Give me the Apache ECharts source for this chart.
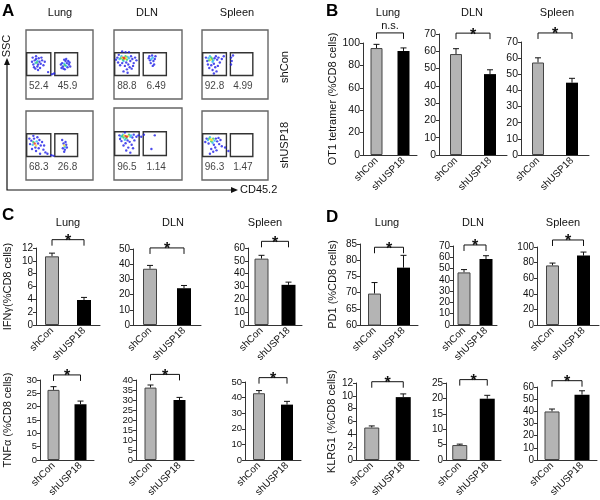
<!DOCTYPE html>
<html>
<head>
<meta charset="utf-8">
<script src="https://cdn.jsdelivr.net/npm/echarts/dist/echarts.min.js"></script>
<style>
  html, body { margin: 0; padding: 0; background: #fff; }
  #main { width: 600px; height: 500px; }
</style>
</head>
<body>
<div id="main"></div>
<script>
const tissues = ['Lung', 'DLN', 'Spleen'];
const groups = ['shCon', 'shUSP18'];

// A: gate percentages per tissue [left gate, right gate]
const gatePctCon = [[52.4, 45.9], [88.8, 6.49], [92.8, 4.99]];
const gatePctUsp = [[68.3, 26.8], [96.5, 1.14], [96.3, 1.47]];
// gates in plot units [x0, y0, x1, y1]
const gateBoxes = [[1, 34, 37, 67], [43, 34, 77, 67]];

// events: [CD45.2, SSC, density level 0-4]
const dotsLungCon = [
  [16,53,2],[17,55,1],[14,52,1],[18,50,0],[13,56,0],[20,54,0],[15,58,0],[11,50,0],[19,59,0],[22,51,0],
  [12,46,0],[17,47,0],[24,56,0],[9,54,0],[21,45,0],[15,62,0],[26,49,0],[18,42,0],[10,60,0],[23,60,0],
  [14,44,0],[28,54,0],[39,36,0],[42,37,0],[33,39,0],
  [58,49,2],[57,51,1],[60,48,1],[55,47,0],[61,52,0],[54,52,0],[62,46,0],[59,55,0],[56,44,0],[64,50,0],
  [52,50,0],[58,43,0],[63,55,0],[60,58,0],[66,47,0],[53,45,0],[57,57,0],[65,53,0]
];
const dotsDlnCon = [
  [15,59,4],[14,60,4],[16,58,3],[12,60,3],[18,60,3],[13,57,2],[17,62,2],[10,59,2],[19,57,2],[11,62,1],
  [20,61,1],[8,58,1],[22,59,1],[14,55,1],[5,60,0],[3,57,0],[25,62,0],[27,58,0],[24,55,0],[18,53,0],
  [12,52,0],[21,50,0],[16,48,0],[23,46,0],[19,43,0],[14,40,0],[26,44,0],[20,38,0],[9,49,0],[29,52,0],
  [31,60,0],[17,68,0],[12,69,0],[22,68,0],[7,64,0],[33,56,0],[28,48,0],[6,53,0],
  [55,58,1],[57,60,1],[53,56,0],[58,55,0],[52,62,0],[56,63,0],[60,58,0],[54,52,0],[59,50,0],[51,59,0],
  [61,62,0],[57,48,0]
];
const dotsSpleenCon = [
  [13,57,3],[15,58,2],[11,56,2],[14,60,2],[17,56,1],[10,59,1],[16,54,1],[12,62,1],[19,59,0],[8,55,0],
  [21,62,0],[6,60,0],[23,57,0],[18,51,0],[14,49,0],[25,60,0],[20,46,0],[11,45,0],[27,53,0],[16,42,0],
  [22,40,0],[30,58,0],[9,50,0],[24,48,0],[18,37,0],[33,62,0],
  [44,60,0],[45,55,0],[47,63,0],[44,50,0]
];
const dotsLungUsp = [
  [13,53,4],[15,50,3],[11,55,2],[16,56,1],[10,51,1],[14,47,0],[18,53,0],[8,57,0],[12,60,0],[20,58,0],
  [17,62,0],[6,52,0],[22,50,0],[9,45,0],[15,42,0],[24,55,0],[19,46,0],[5,60,0],[26,44,0],[29,40,0],
  [32,38,0],[21,38,0],[38,36,0],[41,35,0],[11,64,0],[27,50,0],
  [57,50,3],[58,48,1],[56,53,0],[59,55,0],[55,46,0],[60,51,0],[58,44,0],[54,58,0],[61,47,0],[57,41,0]
];
const dotsDlnUsp = [
  [17,61,4],[19,60,4],[15,62,3],[21,61,3],[14,59,2],[18,58,2],[22,63,2],[12,61,2],[24,60,1],[13,63,1],
  [16,56,1],[25,62,1],[10,60,1],[27,59,0],[8,62,0],[29,63,0],[20,55,0],[23,53,0],[17,51,0],[26,49,0],
  [14,48,0],[21,45,0],[18,41,0],[24,38,0],[11,54,0],[30,55,0],[33,60,0],[36,62,0],[40,60,0],[44,63,0],
  [16,66,0],[9,57,0],[28,44,0],
  [60,62,0],[55,43,0]
];
const dotsSpleenUsp = [
  [13,59,3],[15,58,3],[11,60,2],[17,60,2],[14,56,2],[9,58,1],[19,57,1],[12,62,1],[16,54,1],[21,60,0],
  [7,60,0],[23,56,0],[18,51,0],[10,53,0],[25,61,0],[20,47,0],[14,45,0],[26,52,0],[17,41,0],[22,43,0],
  [5,55,0],[28,58,0],[30,49,0],[12,38,0],[40,42,0],[35,47,0]
];

// B: OT1 tetramer, per tissue [shCon, shUSP18]
const ot1Mean = [[95.5, 92.9], [58.4, 46.8], [57.3, 44.8]];
const ot1Err = [[3.3, 2.7], [3.1, 2.5], [2.9, 2.7]];
const ot1Max = [100, 70, 70];
const ot1Step = [20, 10, 10];
const ot1Bracket = [109, 70.5, 75.6];
const ot1Sig = ['n.s.', '*', '*'];

// C: IFNg and TNFa
const ifngMean = [[10.7, 3.9], [37, 24.2], [51.7, 31.3]];
const ifngErr = [[0.5, 0.4], [2.2, 1.8], [2.6, 2.1]];
const ifngMax = [12, 50, 60];
const ifngStep = [2, 10, 10];
const ifngBracket = [13.3, 50.7, 65.2];

const tnfMean = [[26.3, 20.9], [36.2, 30], [42.8, 35.5]];
const tnfErr = [[1.2, 1.2], [1.3, 1.3], [1.7, 2.1]];
const tnfMax = [30, 40, 50];
const tnfStep = [5, 5, 10];
const tnfBracket = [31.9, 42.8, 52.8];

// D: PD1 and KLRG1
const pd1Mean = [[69.7, 77.7], [46.6, 58.4], [76.4, 89]];
const pd1Err = [[3.4, 3.8], [2.5, 3], [3, 4.5]];
const pd1Min = [60, 0, 0];
const pd1Max = [85, 70, 100];
const pd1Step = [5, 10, 20];
const pd1Bracket = [84, 70.9, 109];

const klrgMean = [[5.06, 9.8], [4.85, 19.9], [39.9, 53.7]];
const klrgErr = [[0.25, 0.5], [0.3, 1.1], [2, 3.2]];
const klrgMax = [12, 25, 60];
const klrgStep = [2, 5, 10];
const klrgBracket = [12.2, 26.1, 65.2];

const FONT = '"Liberation Sans", Arial, sans-serif';
const dotColors = ['#1e1ee6', '#2ab6f0', '#2ec864', '#f2e02a', '#e8301e'];

const chart = echarts.init(document.getElementById('main'));
const grid = [], xAxis = [], yAxis = [], series = [], graphic = [];

function addText(text, x, y, size, extra) {
  graphic.push(Object.assign({
    type: 'text', x: x, y: y, silent: true,
    style: {
      text: text, x: 0, y: 0, font: size + 'px ' + FONT, fill: '#111',
      textAlign: 'center', textVerticalAlign: 'middle', align: 'center', verticalAlign: 'middle'
    }
  }, extra || {}));
}

// ---------- panel A: dot plots ----------
const flowPlots = [
  { box: [26, 30, 67, 69], dots: dotsLungCon, pct: gatePctCon[0] },
  { box: [114, 30, 68, 69], dots: dotsDlnCon, pct: gatePctCon[1] },
  { box: [202, 30, 66, 69], dots: dotsSpleenCon, pct: gatePctCon[2] },
  { box: [26, 111, 67, 69], dots: dotsLungUsp, pct: gatePctUsp[0] },
  { box: [114, 108, 68, 72], dots: dotsDlnUsp, pct: gatePctUsp[1] },
  { box: [202, 111, 66, 69], dots: dotsSpleenUsp, pct: gatePctUsp[2] }
];
const pctX = [19, 62];

flowPlots.forEach(fp => {
  const gi = grid.length;
  grid.push({ left: fp.box[0], top: fp.box[1], width: fp.box[2], height: fp.box[3],
    show: true, borderColor: '#666', borderWidth: 1.4, backgroundColor: 'transparent' });
  xAxis.push({ type: 'value', gridIndex: gi, min: 0, max: 100, show: false });
  yAxis.push({ type: 'value', gridIndex: gi, min: 0, max: 100, show: false });
  series.push({
    type: 'scatter', xAxisIndex: gi, yAxisIndex: gi, symbolSize: 2.4, silent: true,
    data: fp.dots.slice().sort((a, b) => a[2] - b[2]),
    itemStyle: { color: p => dotColors[p.value[2]] }
  });
  series.push({
    type: 'custom', xAxisIndex: gi, yAxisIndex: gi, silent: true, data: gateBoxes,
    renderItem: (params, api) => {
      const p0 = api.coord([api.value(0), api.value(3)]);
      const p1 = api.coord([api.value(2), api.value(1)]);
      return { type: 'rect', shape: { x: p0[0], y: p0[1], width: p1[0] - p0[0], height: p1[1] - p0[1] },
        style: { fill: 'none', stroke: '#333', lineWidth: 1.4 } };
    }
  });
  series.push({
    type: 'scatter', xAxisIndex: gi, yAxisIndex: gi, symbolSize: 0, silent: true,
    data: fp.pct.map((v, k) => [pctX[k], 18, v]),
    label: { show: true, position: 'inside', formatter: p => String(p.value[2]),
      fontSize: 10, color: '#111', fontFamily: FONT }
  });
});

// ---------- bar panels ----------
function errorBar(params, api) {
  const base = api.coord([api.value(0), api.value(1)]);
  const top = api.coord([api.value(0), api.value(1) + api.value(2)]);
  const st = { stroke: '#111', lineWidth: 1 };
  return { type: 'group', children: [
    { type: 'line', shape: { x1: base[0], y1: base[1], x2: top[0], y2: top[1] }, style: st },
    { type: 'line', shape: { x1: top[0] - 3, y1: top[1], x2: top[0] + 3, y2: top[1] }, style: st }
  ] };
}

function bracket(sig) {
  return (params, api) => {
    const a = api.coord([0, api.value(1)]);
    const b = api.coord([1, api.value(1)]);
    const star = sig === '*';
    return { type: 'group', children: [
      { type: 'polyline', shape: { points: [[a[0], a[1] + 6], [a[0], a[1]], [b[0], b[1]], [b[0], b[1] + 6]] },
        style: { fill: 'none', stroke: '#111', lineWidth: 1 } },
      { type: 'text', style: {
          text: sig, x: (a[0] + b[0]) / 2, y: star ? a[1] + 2 : a[1] - 1,
          font: (star ? 'bold 16px ' : '11px ') + FONT, fill: '#111',
          textAlign: 'center', align: 'center',
          textVerticalAlign: star ? 'middle' : 'bottom', verticalAlign: star ? 'middle' : 'bottom' } }
    ] };
  };
}

const barRows = [
  { mean: ot1Mean, err: ot1Err, min: [0, 0, 0], max: ot1Max, step: ot1Step, br: ot1Bracket, sig: ot1Sig,
    name: 'OT1 tetramer (%CD8 cells)', nameGap: 24, barW: 12, fs: 10.5,
    boxes: [[363, 43, 54, 112], [439, 34, 68, 121], [521, 42, 68, 113]] },
  { mean: ifngMean, err: ifngErr, min: [0, 0, 0], max: ifngMax, step: ifngStep, br: ifngBracket, sig: ['*', '*', '*'],
    name: 'IFNγ(%CD8 cells)', nameGap: 23, barW: 14, fs: 10,
    boxes: [[36, 248, 64, 77], [133, 249, 68, 76], [248, 248, 54, 77]] },
  { mean: tnfMean, err: tnfErr, min: [0, 0, 0], max: tnfMax, step: tnfStep, br: tnfBracket, sig: ['*', '*', '*'],
    name: 'TNFα (%CD8 cells)', nameGap: 27, barW: 12, fs: 9.5,
    boxes: [[40, 380, 54, 80], [136, 380, 58, 80], [245, 382, 56, 78]] },
  { mean: pd1Mean, err: pd1Err, min: pd1Min, max: pd1Max, step: pd1Step, br: pd1Bracket, sig: ['*', '*', '*'],
    name: 'PD1 (%CD8 cells)', nameGap: 22, barW: 13, fs: 10,
    boxes: [[360, 244, 58, 81], [453, 246, 44, 79], [537, 247, 62, 78]] },
  { mean: klrgMean, err: klrgErr, min: [0, 0, 0], max: klrgMax, step: klrgStep, br: klrgBracket, sig: ['*', '*', '*'],
    name: 'KLRG1 (%CD8 cells)', nameGap: 19, barW: 15, fs: 10,
    boxes: [[356, 383, 63, 77], [446, 383, 55, 77], [537, 387, 60, 73]] }
];

barRows.forEach(row => {
  tissues.forEach((tissue, t) => {
    const gi = grid.length;
    const b = row.boxes[t];
    grid.push({ left: b[0], top: b[1], width: b[2], height: b[3] });
    xAxis.push({
      type: 'category', gridIndex: gi, data: groups,
      axisLine: { lineStyle: { color: '#333', width: 1 } },
      axisTick: { length: 3, lineStyle: { color: '#333' } },
      axisLabel: { rotate: 45, margin: 4, interval: 0, fontSize: 10, color: '#111', fontFamily: FONT }
    });
    yAxis.push({
      type: 'value', gridIndex: gi, min: row.min[t], max: row.max[t], interval: row.step[t],
      axisLine: { show: true, lineStyle: { color: '#333', width: 1 } },
      axisTick: { show: true, length: 3, lineStyle: { color: '#333' } },
      splitLine: { show: false },
      axisLabel: { margin: 3, fontSize: row.fs, color: '#111', fontFamily: FONT },
      name: t === 0 ? row.name : '', nameLocation: 'middle', nameRotate: 90, nameGap: row.nameGap,
      nameTextStyle: { fontSize: 11, color: '#111', fontFamily: FONT }
    });
    series.push({
      type: 'bar', xAxisIndex: gi, yAxisIndex: gi, barWidth: row.barW, silent: true,
      data: row.mean[t].map((v, k) => ({
        value: v,
        itemStyle: k === 0 ? { color: '#b4b4b4', borderColor: '#444', borderWidth: 1 } : { color: '#000' }
      }))
    });
    series.push({
      type: 'custom', xAxisIndex: gi, yAxisIndex: gi, silent: true, encode: { x: 0, y: 1 },
      data: row.mean[t].map((v, k) => [k, v, row.err[t][k]]), renderItem: errorBar
    });
    series.push({
      type: 'custom', xAxisIndex: gi, yAxisIndex: gi, silent: true, encode: { x: 0, y: 1 }, z: 5,
      data: [[0, row.br[t]]], renderItem: bracket(row.sig[t])
    });
  });
});

// ---------- titles, letters, axes of panel A ----------
[[60, 13], [147, 13], [237, 13]].forEach((p, i) => addText(tissues[i], p[0], p[1], 11));
[[388, 13], [472, 13], [557, 13]].forEach((p, i) => addText(tissues[i], p[0], p[1], 11));
[[68, 223], [173, 223], [265, 223]].forEach((p, i) => addText(tissues[i], p[0], p[1], 11));
[[387, 223], [473, 223], [563, 223]].forEach((p, i) => addText(tissues[i], p[0], p[1], 11));

function letter(ch, x, y) {
  graphic.push({ type: 'text', x: x, y: y, silent: true,
    style: { text: ch, font: 'bold 17px ' + FONT, fill: '#000', textAlign: 'left', align: 'left',
      textVerticalAlign: 'top', verticalAlign: 'top' } });
}
letter('A', 2, 3);
letter('B', 326, 3);
letter('C', 2, 207);
letter('D', 326, 209);

addText('shCon', 285, 67, 11, { rotation: Math.PI / 2 });
addText('shUSP18', 285, 145, 11, { rotation: Math.PI / 2 });
addText('SSC', 7, 46, 11, { rotation: Math.PI / 2 });
graphic.push({ type: 'polyline', silent: true, shape: { points: [[7, 64], [7, 190], [232, 190]] },
  style: { fill: 'none', stroke: '#111', lineWidth: 1.2 } });
graphic.push({ type: 'polygon', silent: true, shape: { points: [[4, 65], [7, 58], [10, 65]] }, style: { fill: '#111' } });
graphic.push({ type: 'polygon', silent: true, shape: { points: [[231, 187], [238, 190], [231, 193]] }, style: { fill: '#111' } });
graphic.push({ type: 'text', x: 240, y: 190, silent: true,
  style: { text: 'CD45.2', font: '11px ' + FONT, fill: '#111', textAlign: 'left', align: 'left',
    textVerticalAlign: 'middle', verticalAlign: 'middle' } });

chart.setOption({
  animation: false,
  backgroundColor: '#fff',
  textStyle: { fontFamily: FONT },
  grid: grid, xAxis: xAxis, yAxis: yAxis, series: series, graphic: graphic
});
</script>
</body>
</html>
